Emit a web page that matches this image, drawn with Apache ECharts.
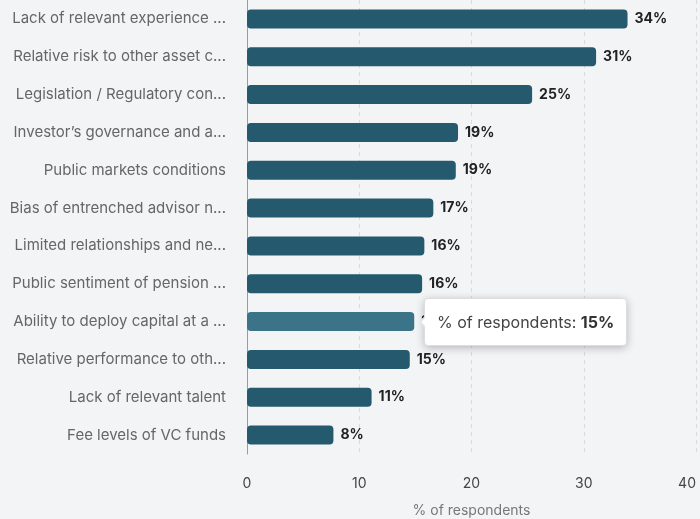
<!DOCTYPE html>
<html><head><meta charset="utf-8">
<script src="https://cdn.jsdelivr.net/npm/echarts@6/dist/echarts.min.js"></script>
<style>html,body{margin:0;padding:0;background:#f3f4f6;}#c{width:700px;height:519px;}</style>
</head><body><div id="c"></div>
<script>
const categories = [
  "Lack of relevant experience ...",
  "Relative risk to other asset c...",
  "Legislation / Regulatory con...",
  "Investor\u2019s governance and a...",
  "Public markets conditions",
  "Bias of entrenched advisor n...",
  "Limited relationships and ne...",
  "Public sentiment of pension ...",
  "Ability to deploy capital at a ...",
  "Relative performance to oth...",
  "Lack of relevant talent",
  "Fee levels of VC funds"
];
const values = [33.9, 31.1, 25.4, 18.8, 18.6, 16.6, 15.8, 15.6, 14.9, 14.5, 11.1, 7.7];
const xTicks = [0, 10, 20, 30, 40];
const seriesName = "% of respondents";
const FONT = "Inter";

const chart = echarts.init(document.getElementById('c'));
chart.setOption({
  backgroundColor: '#f3f4f6',
  animation: false,
  textStyle: {fontFamily: FONT},
  grid: {left: 247, width: 449, top: 0, bottom: 65, containLabel: false, outerBoundsMode: 'none'},
  tooltip: {
    trigger: 'item',
    position: 'right',
    backgroundColor: '#ffffff',
    borderColor: '#dddddd',
    borderWidth: 1,
    padding: [11, 12],
    extraCssText: 'box-shadow:0 2px 8px rgba(0,0,0,0.25);border-radius:4px;',
    textStyle: {fontFamily: FONT, fontSize: 16, color: '#444'},
    formatter: p => p.seriesName + ': <b style="color:#333">' + Math.round(p.value) + '%</b>'
  },
  xAxis: {
    type: 'value', min: xTicks[0], max: xTicks[xTicks.length-1], interval: 10,
    name: seriesName, nameLocation: 'middle', nameGap: 50,
    nameTextStyle: {color: '#777', fontSize: 14, fontFamily: FONT},
    axisLine: {show: false}, axisTick: {show: false},
    axisLabel: {color: '#444', fontSize: 14, margin: 23, fontFamily: FONT, alignMaxLabel: 'right'},
    splitLine: {show: true, lineStyle: {type: [4, 4], color: '#d9dadc'}}
  },
  yAxis: {
    type: 'category', data: categories, inverse: true,
    axisLine: {show: true, lineStyle: {color: '#9a9a9a'}},
    axisTick: {show: false},
    axisLabel: {color: '#666', fontSize: 15, margin: 21, fontFamily: FONT}
  },
  series: [{
    name: seriesName, type: 'bar', data: values, barWidth: 19,
    itemStyle: {color: '#255a6e', borderRadius: 4},
    emphasis: {itemStyle: {color: '#3b7488'}},
    label: {show: true, position: 'right', distance: 7, color: '#222', fontWeight: 'bold', fontSize: 14,
      fontFamily: FONT, formatter: p => Math.round(p.value) + '%'}
  }]
});
chart.dispatchAction({type: 'highlight', seriesIndex: 0, dataIndex: 8});
chart.dispatchAction({type: 'showTip', seriesIndex: 0, dataIndex: 8});
</script></body></html>
